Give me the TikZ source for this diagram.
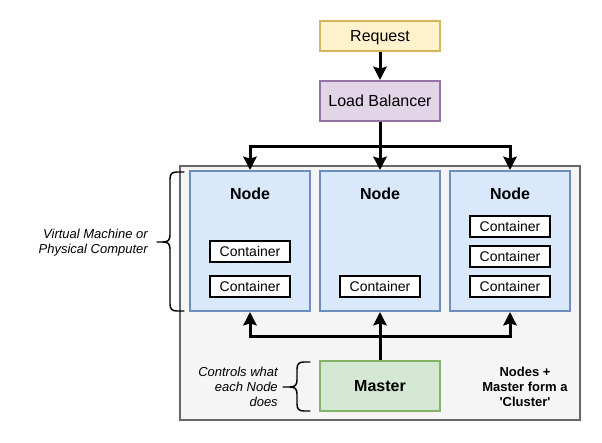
\documentclass[tikz,border=0pt]{standalone}
\usepackage{fontspec}
\setmainfont{Liberation Sans}
\usetikzlibrary{arrows.meta}
\begin{document}
\begin{tikzpicture}[x=0.75pt,y=-0.75pt,
  box/.style={draw,line width=1.5pt,inner sep=0pt,anchor=center},
  big/.style={font=\fontsize{12pt}{14pt}\selectfont,text height=8.7pt,text depth=0.3pt},
  reqbox/.style={box,fill=reqfill,draw=reqline,minimum width=90pt,minimum height=22.5pt,big},
  lbbox/.style={box,fill=lbfill,draw=lbline,minimum width=90pt,minimum height=30pt,big},
  nodebox/.style={box,fill=nodefill,draw=nodeline,minimum width=90pt,minimum height=105pt},
  titletext/.style={font=\fontsize{12pt}{14pt}\selectfont\bfseries,inner sep=0pt},
  contbox/.style={box,fill=white,draw=black,minimum width=60pt,minimum height=15.75pt,font=\fontsize{10.5pt}{12pt}\selectfont},
  masterbox/.style={box,fill=mfill,draw=mline,minimum width=90pt,minimum height=37.5pt,font=\fontsize{12pt}{14pt}\selectfont\bfseries},
  arr/.style={line width=2.25pt,-{Stealth[length=10pt,width=10pt,inset=1.5pt]}},
  bracestyle/.style={line width=1.1pt,line cap=round,line join=round},
  note/.style={inner sep=0pt,align=right,anchor=east}
]
\definecolor{reqfill}{HTML}{FFF2CC}\definecolor{reqline}{HTML}{D6B656}
\definecolor{lbfill}{HTML}{E1D5E7}\definecolor{lbline}{HTML}{9673A6}
\definecolor{nodefill}{HTML}{DAE8FC}\definecolor{nodeline}{HTML}{6C8EBF}
\definecolor{mfill}{HTML}{D5E8D4}\definecolor{mline}{HTML}{82B366}
\definecolor{clfill}{HTML}{F5F5F5}\definecolor{clline}{HTML}{666666}
\useasboundingbox (0,0) rectangle (602,442);
\fill[white] (0,0) rectangle (602,442);

\node[box,fill=clfill,draw=clline,minimum width=300pt,minimum height=190.5pt] (cluster) at (380,293) {};

\node[reqbox] (req) at (380,36) {Request};
\node[lbbox] (lb) at (380,101) {Load Balancer};

\node[nodebox] (n1) at (250,241) {};
\node[nodebox] (n2) at (380,241) {};
\node[nodebox] (n3) at (510,241) {};
\node[titletext] (t1) at (250,194) {Node};
\node[titletext] (t2) at (380,194) {Node};
\node[titletext] (t3) at (510,194) {Node};

\node[contbox] (c11) at (250,251.5) {Container};
\node[contbox] (c12) at (250,286.5) {Container};
\node[contbox] (c21) at (380,286.5) {Container};
\node[contbox] (c31) at (510,226.5) {Container};
\node[contbox] (c32) at (510,256.5) {Container};
\node[contbox] (c33) at (510,286.5) {Container};

\node[masterbox] (master) at (380,386) {Master};

\coordinate (split) at (380,146);
\coordinate (join) at (380,336);
\draw[arr] (req) -- (lb);
\draw[arr] (lb) -- (n2);
\draw[arr] (split) -| (n1);
\draw[arr] (split) -| (n3);
\draw[arr] (master) -- (n2);
\draw[arr] (join) -| (n1);
\draw[arr] (join) -| (n3);

% left brace
\draw[bracestyle] (184,172) -- (177,172) .. controls (172,172) and (170,174) .. (170,179)
  -- (170,235) .. controls (170,240) and (168,242) .. (163,242) -- (157,242);
\draw[bracestyle] (163,242) .. controls (168,242) and (170,244) .. (170,249)
  -- (170,304) .. controls (170,309) and (172,311) .. (177,311) -- (184,311);
\node[note,font=\fontsize{9.75pt}{11pt}\selectfont\itshape] (vm) at (148,242.5) {Virtual Machine or\\Physical Computer};

% bottom brace
\draw[bracestyle] (310,362) -- (304,362) .. controls (299,362) and (297,364) .. (297,369)
  -- (297,380) .. controls (297,385) and (295,387) .. (290,387) -- (283,387);
\draw[bracestyle] (290,387) .. controls (295,387) and (297,389) .. (297,394)
  -- (297,404) .. controls (297,409) and (299,411) .. (304,411) -- (310,411);
\node[note,font=\fontsize{9.75pt}{11.25pt}\selectfont\itshape] (ctl) at (278,386.5) {Controls what\\each Node\\does};

\node[inner sep=0pt,font=\fontsize{9.75pt}{11.25pt}\selectfont\bfseries,align=center] (cl) at (525,386.5) {Nodes +\\Master form a\\\textquotesingle Cluster\textquotesingle};
\end{tikzpicture}
\end{document}
